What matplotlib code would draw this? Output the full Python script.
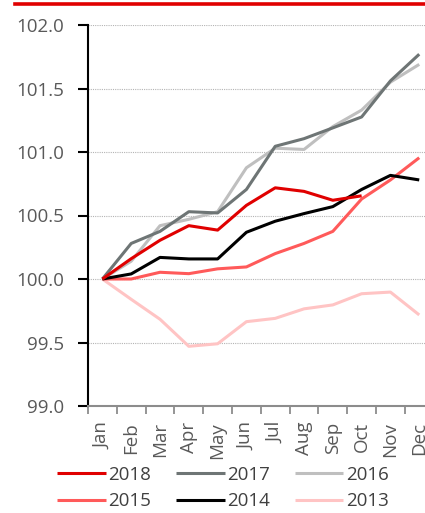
import matplotlib
matplotlib.use("Agg")
import matplotlib.pyplot as plt
from matplotlib.lines import Line2D
import numpy as np

months = ["Jan", "Feb", "Mar", "Apr", "May", "Jun", "Jul", "Aug", "Sep", "Oct", "Nov", "Dec"]
y2018 = [100.0, 100.16, 100.305, 100.42, 100.385, 100.58, 100.718, 100.69, 100.62, 100.655]
y2017 = [100.0, 100.28, 100.375, 100.53, 100.52, 100.705, 101.045, 101.105, 101.19, 101.276, 101.56, 101.77]
y2016 = [100.0, 100.14, 100.42, 100.47, 100.53, 100.876, 101.03, 101.02, 101.2, 101.33, 101.55, 101.69]
y2015 = [100.0, 100.0, 100.053, 100.042, 100.08, 100.095, 100.2, 100.28, 100.375, 100.63, 100.78, 100.955]
y2014 = [100.0, 100.04, 100.17, 100.158, 100.158, 100.368, 100.455, 100.515, 100.57, 100.705, 100.816, 100.78]
y2013 = [100.0, 99.84, 99.683, 99.47, 99.49, 99.664, 99.69, 99.765, 99.796, 99.884, 99.897, 99.717]

series = [
    ("2018", y2018, "#e00000"),
    ("2017", y2017, "#6e7575"),
    ("2016", y2016, "#bfbfbf"),
    ("2015", y2015, "#ff5a5a"),
    ("2014", y2014, "#000000"),
    ("2013", y2013, "#ffc4c4"),
]
yticks = [99.0, 99.5, 100.0, 100.5, 101.0, 101.5, 102.0]

plt.rcParams["font.family"] = ["Open Sans", "DejaVu Sans"]
W, H = 425, 513
FS = 13.5
fig = plt.figure(figsize=(W / 100, H / 100), dpi=100)
ax = fig.add_axes([88 / W, 1 - 406 / H, 1 - 88 / W, (406 - 25) / H])

lines = {}
draw_order = ["2013", "2016", "2017", "2015", "2014", "2018"]
for name, vals, col in series:
    ln, = ax.plot(np.arange(len(vals)), vals, color=col, lw=2.2, solid_capstyle="butt",
                  zorder=3 + draw_order.index(name))
    lines[name] = ln

ax.set_ylim(99.0, 102.0)
ax.set_xlim(-0.5, 11.2)
ax.set_yticks(yticks)
ax.set_yticklabels([f"{v:.1f}" for v in yticks])
ax.set_xticks(np.arange(12))
ax.set_xticklabels(months, rotation=90)
ax.set_xticks(np.arange(-0.5, 11.5, 1.0), minor=True)

ax.tick_params(axis="x", which="major", length=0, pad=11.5, labelsize=FS, labelcolor="#595959")
ax.tick_params(axis="x", which="minor", length=6, width=1.3, color="#8c8c8c", direction="out")
ax.tick_params(axis="y", which="major", length=7, width=1.5, color="black", direction="out",
               pad=10, labelsize=FS, labelcolor="#595959")

for s in ["top", "right"]:
    ax.spines[s].set_visible(False)
ax.spines["left"].set_color("black")
ax.spines["left"].set_linewidth(1.5)
ax.spines["bottom"].set_color("#8c8c8c")
ax.spines["bottom"].set_linewidth(1.5)

for v in yticks[1:]:
    ax.axhline(v, color="#b4b4b4", lw=0.8, ls=(0, (1, 1)), zorder=1)

fig.add_artist(Line2D([15 / W, 1.0], [1 - 4 / H, 1 - 4 / H], color="#e00000", lw=2.6,
                      transform=fig.transFigure))

order = ["2018", "2015", "2017", "2014", "2016", "2013"]
leg = fig.legend([lines[n] for n in order], order, ncol=3, loc="upper left",
                 bbox_to_anchor=(57 / W, 1 - 466 / H), frameon=False, fontsize=FS,
                 handlelength=2.6, handletextpad=0.15, columnspacing=1.3,
                 labelspacing=0.45, borderpad=0, borderaxespad=0)
for t in leg.get_texts():
    t.set_color("#404040")

fig.savefig("out.png", dpi=100)
